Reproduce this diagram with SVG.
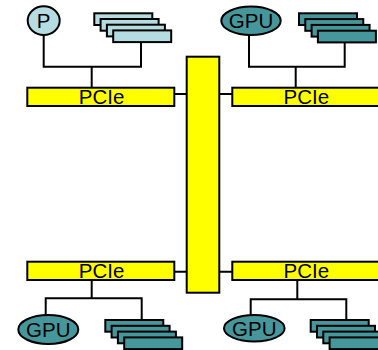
<svg xmlns="http://www.w3.org/2000/svg" width="378" height="350" viewBox="0 0 378 350">
  <style>
    .bus { fill: #ffff00; stroke: #000; stroke-width: 2; }
    .wire { fill: none; stroke: #000; stroke-width: 2; }
    .pale { fill: #b5dde1; stroke: #000; stroke-width: 2; }
    .teal { fill: #46979c; stroke: #000; stroke-width: 2; }
    .lbl { font-family: "Liberation Sans", Arial, sans-serif; font-size: 20.5px; fill: #000; text-anchor: middle; }
  </style>
  <defs>
    <g id="stackPale">
      <rect class="pale" x="0" y="0" width="58" height="11.7"/>
      <rect class="pale" x="6.3" y="5.7" width="58" height="11.7"/>
      <rect class="pale" x="12.6" y="11.4" width="58" height="11.7"/>
      <rect class="pale" x="18.9" y="17.1" width="58" height="11.7"/>
    </g>
    <g id="stackTeal">
      <rect class="teal" x="0" y="0" width="58" height="11.7"/>
      <rect class="teal" x="6.3" y="5.8" width="58" height="11.7"/>
      <rect class="teal" x="12.6" y="11.6" width="58" height="11.7"/>
      <rect class="teal" x="18.9" y="17.4" width="58" height="11.7"/>
    </g>
  </defs>

  <g id="connectors">
    <path class="wire" d="M43.7 35 V66.7 H141 V43"/>
    <path class="wire" d="M91.7 66.7 V88"/>
    <path class="wire" d="M249 35 V66.7 H344.7 V43"/>
    <path class="wire" d="M295.7 66.7 V88"/>
    <path class="wire" d="M91.7 280 V298.3 M45.7 315 V298.3 H141.7 V320"/>
    <path class="wire" d="M297.3 280 V299.3 M250.7 315 V299.3 H346.3 V320"/>
    <path class="wire" d="M174.3 94 H186.7 M219.3 94 H232.3"/>
    <path class="wire" d="M174.3 271.7 H186.7 M219.3 271.7 H232.3"/>
  </g>

  <g id="switch">
    <rect class="bus" x="186.7" y="56.7" width="32.6" height="236"/>
  </g>

  <g id="pcie-top-left">
    <rect class="bus" x="27.3" y="87.7" width="147" height="18.3"/>
    <text class="lbl" x="101.5" y="104.3">PCIe</text>
  </g>
  <g id="pcie-top-right">
    <rect class="bus" x="232.3" y="87.7" width="147" height="18.3"/>
    <text class="lbl" x="306.3" y="104.3">PCIe</text>
  </g>
  <g id="pcie-bottom-left">
    <rect class="bus" x="27.3" y="261.7" width="147" height="18.3"/>
    <text class="lbl" x="101.5" y="278.3">PCIe</text>
  </g>
  <g id="pcie-bottom-right">
    <rect class="bus" x="232.3" y="261.7" width="147" height="18.3"/>
    <text class="lbl" x="306.3" y="278.3">PCIe</text>
  </g>

  <g id="cpu">
    <ellipse class="pale" cx="43.7" cy="20.6" rx="16" ry="14.4"/>
    <text class="lbl" x="43.7" y="28">P</text>
  </g>
  <g id="cpu-memory">
    <use href="#stackPale" x="94.3" y="13.3"/>
  </g>

  <g id="gpu-top">
    <ellipse class="teal" cx="251" cy="20.8" rx="29.7" ry="14.2"/>
    <text class="lbl" x="251" y="28.2">GPU</text>
  </g>
  <g id="gpu-top-memory">
    <use href="#stackTeal" x="299" y="13.3"/>
  </g>

  <g id="gpu-bottom-left">
    <ellipse class="teal" cx="48.3" cy="329.5" rx="30" ry="14.5"/>
    <text class="lbl" x="48.3" y="337">GPU</text>
  </g>
  <g id="gpu-bottom-left-memory">
    <use href="#stackTeal" x="105.3" y="320"/>
  </g>

  <g id="gpu-bottom-right">
    <ellipse class="teal" cx="254.3" cy="328.3" rx="30.3" ry="13.3"/>
    <text class="lbl" x="254.3" y="335.7">GPU</text>
  </g>
  <g id="gpu-bottom-right-memory">
    <use href="#stackTeal" x="310.7" y="320"/>
  </g>
</svg>
